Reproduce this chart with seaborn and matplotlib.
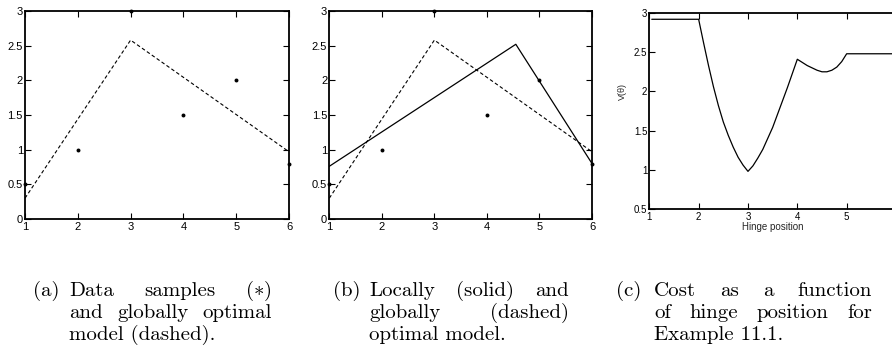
import matplotlib
matplotlib.use("Agg")
import matplotlib.pyplot as plt
from matplotlib.ticker import FuncFormatter
import pandas as pd
import seaborn as sns

# Data samples
sample_x = [1, 2, 3, 4, 5, 6]
sample_y = [0.5, 1.0, 3.0, 1.5, 2.0, 0.8]

# Globally optimal hinge model (hinge at 3)
global_x = [1, 3, 6]
global_y = [0.30, 2.58, 0.97]

# Locally optimal hinge model (hinge near 4.55)
local_x = [1, 4.55, 6]
local_y = [0.76, 2.52, 0.80]

# Cost V(theta) versus hinge position
hinge_pos = [1.05, 2.0, 2.1, 2.2, 2.3, 2.4, 2.5, 2.6, 2.7, 2.8, 2.9, 3.0,
             3.1, 3.2, 3.3, 3.4, 3.5, 3.6, 3.7, 3.8, 3.9, 4.0,
             4.1, 4.2, 4.3, 4.4, 4.5, 4.6, 4.7, 4.8, 4.9, 5.0, 6.0]
cost = [2.92, 2.92, 2.62, 2.33, 2.06, 1.82, 1.61, 1.44, 1.29, 1.16, 1.06, 0.98,
        1.05, 1.15, 1.26, 1.40, 1.54, 1.71, 1.88, 2.05, 2.23, 2.41,
        2.37, 2.33, 2.30, 2.27, 2.25, 2.25, 2.27, 2.31, 2.38, 2.48, 2.48]

x_ticks = [1, 2, 3, 4, 5, 6]
x_ticks_c = [1, 2, 3, 4, 5]
y_ticks_ab = [0, 0.5, 1, 1.5, 2, 2.5, 3]
y_ticks_c = [0.5, 1, 1.5, 2, 2.5, 3]

captions = [
    ("(a)", ["Data samples $(\\ast)$", "and globally optimal", "model (dashed)."]),
    ("(b)", ["Locally (solid) and", "globally (dashed)", "optimal model."]),
    ("(c)", ["Cost as a function", "of hinge position for", "Example 11.1."]),
]

sns.set_style("ticks")
plt.rcParams["font.family"] = ["Liberation Sans", "DejaVu Sans"]
plt.rcParams["mathtext.fontset"] = "cm"

W, H = 892, 351
fig = plt.figure(figsize=(W / 100, H / 100), dpi=100)


def px_axes(left, top, right, bottom):
    return fig.add_axes([left / W, 1 - bottom / H, (right - left) / W, (bottom - top) / H])


def style_axes(ax, xlim, ylim, xticks, yticks, right=True, labelsize=8):
    ax.set_xlim(*xlim)
    ax.set_ylim(*ylim)
    ax.set_xticks(xticks)
    ax.set_yticks(yticks)
    fmt = FuncFormatter(lambda v, p: f"{v:g}")
    ax.xaxis.set_major_formatter(fmt)
    ax.yaxis.set_major_formatter(fmt)
    ax.tick_params(direction="in", top=True, right=right, length=4, width=0.8,
                   labelsize=labelsize, colors="black")
    ax.tick_params(axis="x", pad=2.5)
    ax.tick_params(axis="y", pad=1.5)
    for s in ax.spines.values():
        s.set_visible(True)
        s.set_linewidth(1.3)
        s.set_color("black")
    ax.set_xlabel("")
    ax.set_ylabel("")


samples = pd.DataFrame({"x": sample_x, "y": sample_y})
glob = pd.DataFrame({"x": global_x, "y": global_y})
loc = pd.DataFrame({"x": local_x, "y": local_y})
cost_df = pd.DataFrame({"hinge": hinge_pos, "V": cost})

dash = (0, (3.2, 2.2))

# (a) samples and global model
ax_a = px_axes(25, 11, 289, 219)
sns.lineplot(data=glob, x="x", y="y", ax=ax_a, color="black", lw=0.8,
             linestyle=dash, sort=False, estimator=None)
sns.scatterplot(data=samples, x="x", y="y", ax=ax_a, color="black", s=8,
                linewidth=0, clip_on=False, zorder=5)
style_axes(ax_a, (1, 6), (0, 3), x_ticks, y_ticks_ab)

# (b) local and global models
ax_b = px_axes(329.3, 11, 592, 219)
sns.lineplot(data=glob, x="x", y="y", ax=ax_b, color="black", lw=0.8,
             linestyle=dash, sort=False, estimator=None)
sns.lineplot(data=loc, x="x", y="y", ax=ax_b, color="black", lw=0.9,
             sort=False, estimator=None)
sns.scatterplot(data=samples, x="x", y="y", ax=ax_b, color="black", s=8,
                linewidth=0, clip_on=False, zorder=5)
style_axes(ax_b, (1, 6), (0, 3), x_ticks, y_ticks_ab)

# (c) cost as a function of hinge position
ax_c = px_axes(649.3, 13, 896, 209)
sns.lineplot(data=cost_df, x="hinge", y="V", ax=ax_c, color="black", lw=0.9,
             sort=False, estimator=None)
style_axes(ax_c, (1, 6), (0.5, 3), x_ticks_c, y_ticks_c, right=False, labelsize=7)
ax_c.set_xlabel("Hinge position", fontsize=7)
ax_c.set_ylabel("V(θ)", fontsize=6.5)
ax_c.xaxis.set_label_coords(0.5, -17.5 / 196)
ax_c.xaxis.label.set_va("center")
ax_c.yaxis.set_label_coords(-0.107, 0.60)
ax_c.yaxis.label.set_va("center")

# Justified captions in a Computer Modern face
renderer = fig.canvas.get_renderer()
cap_font = dict(family="cmr10", size=15, color="black", va="baseline")
baselines = [295.5, 317.5, 339.5]
cap_cols = [(33, 69, 272), (333, 369, 569), (616, 654, 872)]


def put(x, y, s):
    return fig.text(x / W, 1 - y / H, s, ha="left", **cap_font)


for (tag, lines), (lx, x0, x1) in zip(captions, cap_cols):
    put(lx, baselines[0], tag)
    for i, line in enumerate(lines):
        y = baselines[i]
        if i == len(lines) - 1:
            put(x0, y, line)
            continue
        words = line.split(" ")
        texts = [put(x0, y, w) for w in words]
        widths = [t.get_window_extent(renderer).width for t in texts]
        gap = (x1 - x0 - sum(widths)) / (len(words) - 1)
        x = x0
        for t, w in zip(texts, widths):
            t.set_x(x / W)
            x += w + gap

fig.savefig("out.png", dpi=100)
